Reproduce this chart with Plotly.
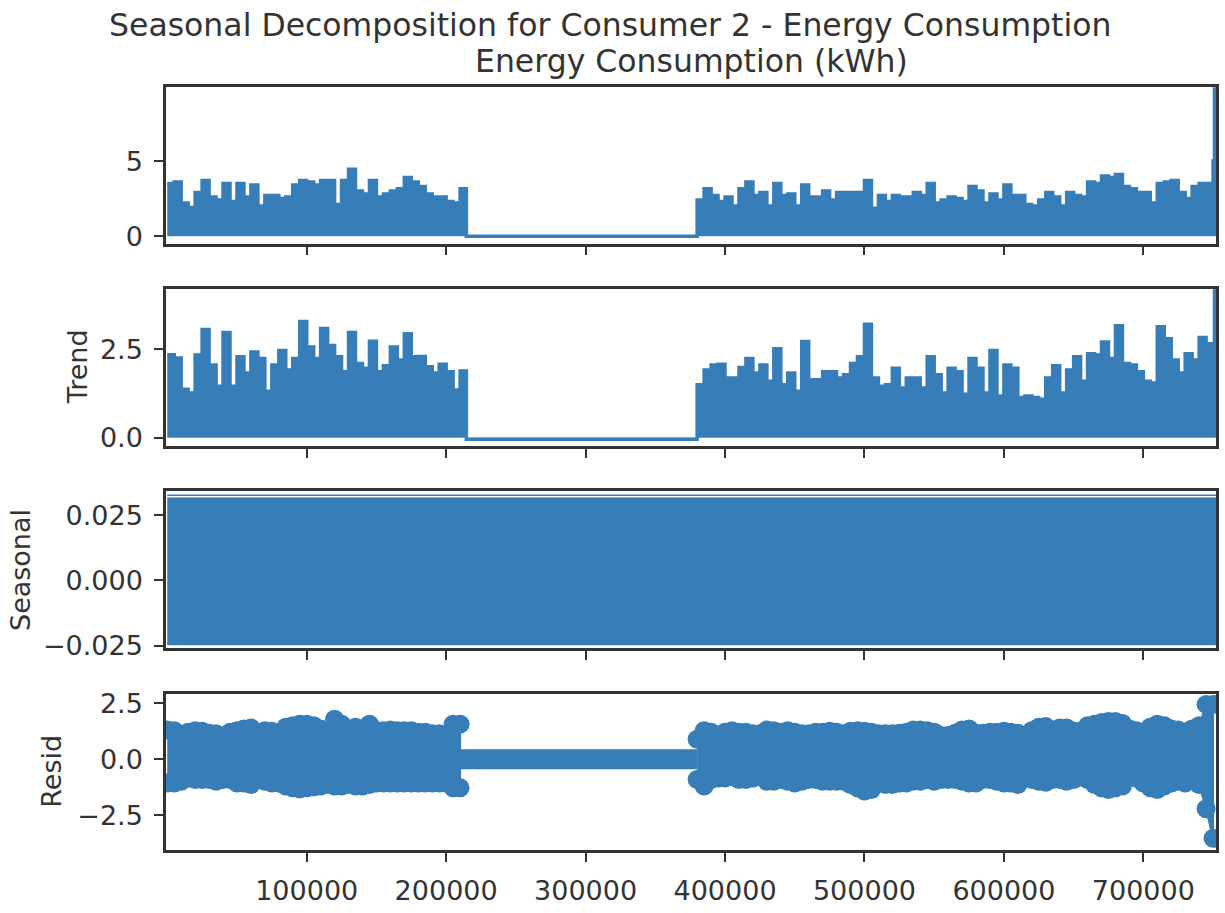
import plotly.graph_objects as go

# ---------------- data ----------------
BIN = 5000
SEG1_START = 0
SEG2_START = 380000
GAP_START = 214500
X_END = 752100
END_SPIKE_X = 751000

# Observed energy consumption: peak per 5000-sample bin
obs_seg1 = [3.5, 3.6, 2.2, 1.9, 2.9, 3.7, 2.6, 2.4, 3.5, 2.3, 3.5, 2.6, 3.4, 2.0, 2.7,
            2.7, 2.5, 2.6, 3.4, 3.7, 3.6, 3.4, 3.7, 3.7, 2.1, 3.7, 4.45, 3.0, 2.8, 3.7,
            2.6, 2.8, 3.0, 3.15, 3.9, 3.6, 3.3, 2.8, 2.6, 2.6, 2.3, 2.2, 3.15]
obs_seg2 = [2.4, 3.15, 2.7, 2.3, 2.6, 2.0, 3.15, 3.6, 2.7, 2.9, 2.0, 3.5, 2.7, 2.8, 2.0,
            3.4, 2.6, 2.6, 3.0, 2.4, 2.9, 2.9, 2.9, 2.9, 3.7, 1.85, 2.7, 2.3, 2.7, 2.6,
            2.6, 2.9, 2.7, 3.5, 2.2, 2.4, 2.6, 2.5, 2.3, 3.3, 3.0, 2.2, 2.8, 2.4, 3.4,
            2.7, 2.7, 2.1, 2.0, 2.4, 2.9, 2.6, 2.0, 2.9, 2.7, 2.6, 3.6, 3.5, 4.0, 3.9,
            4.1, 3.3, 3.15, 2.9, 2.9, 2.2, 3.5, 3.6, 3.7, 2.9, 2.5, 3.3, 3.5, 3.5, 5.0]
obs_gap = 0.0
obs_end_spike = 9.8

# Trend: peak per bin
trend_seg1 = [2.35, 2.26, 1.37, 1.27, 2.34, 3.06, 2.06, 1.46, 2.98, 1.46, 2.29, 1.83, 2.43,
              2.24, 1.32, 2.06, 2.47, 1.92, 2.24, 3.29, 2.57, 2.24, 3.09, 2.61, 2.29, 1.87,
              2.98, 2.10, 1.97, 2.73, 1.87, 2.04, 2.57, 2.20, 2.94, 2.29, 2.30, 2.01, 1.83,
              2.08, 1.87, 1.35, 1.89]
trend_seg2 = [1.50, 1.92, 2.06, 2.08, 1.69, 1.69, 1.99, 2.24, 1.83, 2.06, 1.60, 2.52, 1.50,
              1.83, 1.32, 2.72, 1.64, 1.64, 1.87, 1.87, 1.69, 1.78, 2.10, 2.29, 3.21, 1.69,
              1.46, 1.50, 1.97, 1.41, 1.69, 1.69, 1.41, 2.29, 1.78, 1.27, 1.97, 1.87, 1.23,
              2.24, 1.97, 1.27, 2.47, 1.18, 2.06, 1.97, 1.14, 1.18, 1.14, 1.09, 1.69, 2.04,
              1.27, 1.92, 2.29, 1.60, 2.38, 2.34, 2.71, 2.24, 3.17, 2.10, 2.06, 1.87, 1.60,
              1.55, 3.14, 2.80, 2.20, 1.83, 2.38, 2.20, 2.84, 2.66, 2.66]
trend_gap = -0.04
trend_end_spike = 4.3

# Seasonal: extremes of the oscillation
seas_peak_hi = 0.0326
seas_band_hi = 0.0316
seas_band_lo = -0.0240
seas_peak_lo = -0.0245

# Residual: upper / lower values per bin
resid_hi_seg1 = [1.31, 1.28, 1.06, 1.21, 1.28, 1.25, 1.16, 1.14, 0.99, 1.21, 1.28, 1.35, 1.40,
                 1.16, 1.28, 1.25, 1.14, 1.43, 1.50, 1.57, 1.57, 1.50, 1.35, 1.21, 1.79, 1.57,
                 1.35, 1.43, 1.35, 1.57, 1.28, 1.28, 1.31, 1.28, 1.28, 1.28, 1.21, 1.21, 1.14,
                 1.14, 1.06, 1.57, 1.57]
resid_lo_seg1 = [-1.05, -1.05, -0.98, -0.83, -0.90, -0.90, -0.90, -0.98, -0.90, -0.90, -1.05,
                 -1.05, -1.12, -0.90, -0.98, -1.05, -1.05, -1.19, -1.27, -1.31, -1.27, -1.22,
                 -1.19, -1.12, -1.19, -1.19, -1.12, -1.19, -1.19, -1.12, -1.05, -1.05, -1.05,
                 -1.05, -1.05, -1.05, -1.05, -1.05, -1.05, -1.05, -1.05, -1.27, -1.27]
resid_hi_seg2 = [0.90, 1.28, 1.21, 1.06, 1.21, 1.28, 1.21, 1.21, 1.14, 1.14, 1.31, 1.28, 1.21,
                 1.28, 1.21, 1.14, 1.14, 1.21, 1.21, 1.25, 1.21, 1.14, 1.25, 1.28, 1.25, 1.21,
                 1.14, 1.14, 1.14, 1.16, 1.21, 1.31, 1.31, 1.28, 1.21, 1.06, 1.06, 1.16, 1.31,
                 1.35, 1.16, 1.16, 1.21, 1.21, 1.25, 1.21, 1.16, 1.06, 1.28, 1.43, 1.46, 1.31,
                 1.40, 1.40, 1.25, 1.25, 1.50, 1.57, 1.64, 1.69, 1.69, 1.60, 1.35, 1.28, 1.21,
                 1.43, 1.57, 1.50, 1.35, 1.31, 1.21, 1.35, 1.50, 2.45, 2.45]
resid_lo_seg2 = [-0.90, -1.19, -0.90, -0.83, -0.83, -0.76, -0.90, -0.90, -0.83, -0.76, -0.98,
                 -0.98, -0.90, -0.98, -1.05, -0.98, -0.90, -0.90, -0.98, -0.98, -0.98, -0.98,
                 -1.12, -1.27, -1.41, -1.34, -0.83, -1.12, -1.12, -1.05, -1.05, -0.98, -0.98,
                 -0.90, -0.98, -0.90, -0.90, -0.90, -0.98, -1.05, -1.05, -0.90, -0.90, -0.98,
                 -1.05, -1.05, -1.12, -0.76, -0.90, -0.98, -1.02, -0.90, -0.90, -0.98, -0.90,
                 -0.76, -0.90, -1.12, -1.27, -1.34, -1.27, -1.19, -0.76, -0.83, -1.05, -1.27,
                 -1.34, -1.19, -1.05, -0.98, -1.05, -0.90, -1.12, -2.20, -3.52]
resid_gap = 0.0

x_tick_vals = [100000, 200000, 300000, 400000, 500000, 600000, 700000]
x_tick_text = ["100000", "200000", "300000", "400000", "500000", "600000", "700000"]

# ---------------- styling ----------------
BLUE = "#377db8"
INK = "#333333"
FONT = "DejaVu Sans"
W, H = 1225, 913
LEFT, RIGHT = 166, 1216
panels_px = [(82.3, 242.7), (289.3, 449.3), (495.7, 655.7), (702.7, 861.7)]
y_ranges = [[-0.5, 9.96], [-0.23, 4.2], [-0.0259, 0.0341], [-4.03, 2.91]]
y_ticks = [([0, 5], ["0", "5"]),
           ([0, 2.5], ["0.0", "2.5"]),
           ([-0.025, 0, 0.025], ["\u22120.025", "0.000", "0.025"]),
           ([-2.5, 0, 2.5], ["\u22122.5", "0.0", "2.5"])]


def seg_x(start, n):
    return [start + i * BIN for i in range(n)]


x1 = seg_x(SEG1_START, len(obs_seg1))
x2 = seg_x(SEG2_START, len(obs_seg2))

fig = go.Figure()

# observed (step outline: each bin holds its peak value)
ox = x1 + [GAP_START] + x2 + [END_SPIKE_X, X_END]
oy = obs_seg1 + [obs_gap] + obs_seg2 + [obs_end_spike, obs_end_spike]
fig.add_trace(go.Scatter(x=ox, y=oy, mode="lines", line=dict(color=BLUE, width=3.5, shape="hv"),
                         fill="tozeroy", fillcolor=BLUE, xaxis="x", yaxis="y"))

# trend
ty = trend_seg1 + [trend_gap] + trend_seg2 + [trend_end_spike, trend_end_spike]
fig.add_trace(go.Scatter(x=ox, y=ty, mode="lines", line=dict(color=BLUE, width=3.5, shape="hv"),
                         fill="tozeroy", fillcolor=BLUE, xaxis="x2", yaxis="y2"))

# seasonal
sx = [SEG1_START, X_END]
fig.add_trace(go.Scatter(x=sx, y=[seas_band_lo] * 2, mode="lines", line=dict(color=BLUE, width=2),
                         xaxis="x3", yaxis="y3"))
fig.add_trace(go.Scatter(x=sx, y=[seas_band_hi] * 2, mode="lines", line=dict(color=BLUE, width=1),
                         fill="tonexty", fillcolor=BLUE, xaxis="x3", yaxis="y3"))
fig.add_trace(go.Scatter(x=sx, y=[seas_peak_hi] * 2, mode="lines", line=dict(color=BLUE, width=1.6),
                         xaxis="x3", yaxis="y3"))
fig.add_trace(go.Scatter(x=sx, y=[seas_peak_lo] * 2, mode="lines", line=dict(color=BLUE, width=1.6),
                         xaxis="x3", yaxis="y3"))

# residual
rxx = x1 + x2
rhi = resid_hi_seg1 + resid_hi_seg2
rlo = resid_lo_seg1 + resid_lo_seg2
for xs, hi, lo in ((x1, resid_hi_seg1, resid_lo_seg1), (x2, resid_hi_seg2, resid_lo_seg2)):
    fig.add_trace(go.Scatter(x=xs + xs[::-1], y=hi + lo[::-1], mode="lines",
                             line=dict(color=BLUE, width=2), fill="toself", fillcolor=BLUE,
                             xaxis="x4", yaxis="y4"))
fig.add_trace(go.Scatter(x=[x1[-1], x2[0]], y=[resid_gap, resid_gap], mode="lines",
                         line=dict(color=BLUE, width=20), xaxis="x4", yaxis="y4"))
fig.add_trace(go.Scatter(x=rxx + rxx, y=rhi + rlo, mode="markers",
                         marker=dict(color=BLUE, size=19, line=dict(width=0)),
                         xaxis="x4", yaxis="y4"))

layout = dict(width=W, height=H, margin=dict(l=0, r=0, t=0, b=0),
              paper_bgcolor="white", plot_bgcolor="white", showlegend=False,
              font=dict(family=FONT, color=INK, size=27))

for i, ((top, bot), yr, (tv, tt)) in enumerate(zip(panels_px, y_ranges, y_ticks)):
    k = "" if i == 0 else str(i + 1)
    layout["xaxis" + k] = dict(
        domain=[LEFT / W, RIGHT / W], range=[-900, X_END], anchor="y" + k,
        showgrid=False, zeroline=False, showline=True, mirror=True, linecolor=INK, linewidth=2.5,
        ticks="outside", ticklen=9, tickwidth=2.2, tickcolor=INK,
        tickvals=x_tick_vals, ticktext=x_tick_text, showticklabels=(i == 3),
        tickfont=dict(family=FONT, size=27, color=INK), ticklabelstandoff=6)
    layout["yaxis" + k] = dict(
        domain=[1 - bot / H, 1 - top / H], range=yr, anchor="x" + k,
        showgrid=False, zeroline=False, showline=True, mirror=True, linecolor=INK, linewidth=2.5,
        ticks="outside", ticklen=9, tickwidth=2.2, tickcolor=INK,
        tickvals=tv, ticktext=tt, tickfont=dict(family=FONT, size=27, color=INK),
        ticklabelstandoff=6)

annotations = [
    dict(text="Seasonal Decomposition for Consumer 2 - Energy Consumption", x=610 / W, y=1 - 19 / H,
         xref="paper", yref="paper", xanchor="center", yanchor="middle", showarrow=False,
         font=dict(family=FONT, size=31.5, color=INK)),
    dict(text="Energy Consumption (kWh)", x=691 / W, y=1 - 56 / H,
         xref="paper", yref="paper", xanchor="center", yanchor="middle", showarrow=False,
         font=dict(family=FONT, size=31.5, color=INK)),
    dict(text="Trend", x=77 / W, y=1 - 369 / H, xref="paper", yref="paper", textangle=-90,
         xanchor="center", yanchor="middle", showarrow=False, font=dict(family=FONT, size=27, color=INK)),
    dict(text="Seasonal", x=20 / W, y=1 - 576 / H, xref="paper", yref="paper", textangle=-90,
         xanchor="center", yanchor="middle", showarrow=False, font=dict(family=FONT, size=27, color=INK)),
    dict(text="Resid", x=52 / W, y=1 - 782 / H, xref="paper", yref="paper", textangle=-90,
         xanchor="center", yanchor="middle", showarrow=False, font=dict(family=FONT, size=27, color=INK)),
]
layout["annotations"] = annotations
fig.update_layout(**layout)

fig.write_html("out.html")
